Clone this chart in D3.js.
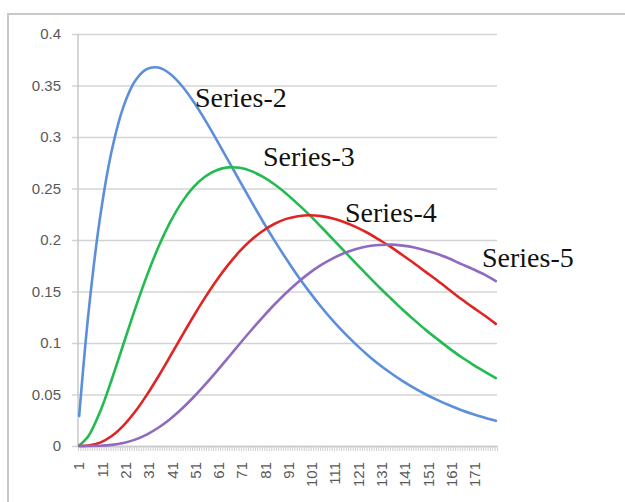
<!DOCTYPE html>
<html>
<head>
<meta charset="utf-8">
<script src="https://cdn.jsdelivr.net/npm/d3@7"></script>
<style>
  html, body { margin: 0; padding: 0; background: #fff; }
  svg { display: block; }
</style>
</head>
<body>
<svg id="chart" width="625" height="502"></svg>
<script>
// ---- data ----
const sampleX = [1, 5, 10, 15, 20, 25, 30, 35, 40, 45, 50, 55, 60, 65, 70, 75, 80, 85, 90, 95,
  100, 105, 110, 115, 120, 125, 130, 135, 140, 145, 150, 155, 160, 165, 170, 175, 180];
const series2 = [0.0291, 0.1291, 0.2222, 0.2869, 0.3293, 0.3543, 0.3659, 0.3674, 0.3614, 0.3500,
  0.3347, 0.3169, 0.2975, 0.2774, 0.2572, 0.2372, 0.2177, 0.1991, 0.1815, 0.1648,
  0.1494, 0.1350, 0.1217, 0.1095, 0.0984, 0.0882, 0.0789, 0.0706, 0.0630, 0.0562,
  0.0500, 0.0445, 0.0395, 0.0350, 0.0311, 0.0276, 0.0244];
const series3 = [0.0004, 0.0097, 0.0333, 0.0646, 0.0988, 0.1329, 0.1647, 0.1929, 0.2168, 0.2363,
  0.2510, 0.2614, 0.2678, 0.2705, 0.2701, 0.2669, 0.2612, 0.2539, 0.2450, 0.2348,
  0.2241, 0.2126, 0.2008, 0.1889, 0.1771, 0.1654, 0.1539, 0.1430, 0.1323, 0.1222,
  0.1125, 0.1035, 0.0948, 0.0866, 0.0793, 0.0725, 0.0659];
const series4 = [0.0000, 0.0005, 0.0033, 0.0097, 0.0198, 0.0332, 0.0494, 0.0675, 0.0867, 0.1063,
  0.1255, 0.1438, 0.1607, 0.1758, 0.1891, 0.2002, 0.2090, 0.2158, 0.2205, 0.2231,
  0.2241, 0.2232, 0.2209, 0.2172, 0.2125, 0.2068, 0.2001, 0.1931, 0.1852, 0.1772,
  0.1688, 0.1604, 0.1517, 0.1429, 0.1348, 0.1269, 0.1186];
const series5 = [0.0000, 0.0000, 0.0002, 0.0011, 0.0030, 0.0062, 0.0111, 0.0177, 0.0260, 0.0359,
  0.0471, 0.0593, 0.0723, 0.0857, 0.0993, 0.1126, 0.1254, 0.1376, 0.1488, 0.1590,
  0.1681, 0.1758, 0.1822, 0.1873, 0.1913, 0.1939, 0.1951, 0.1955, 0.1945, 0.1927,
  0.1899, 0.1865, 0.1820, 0.1768, 0.1719, 0.1666, 0.1601];
const seriesNames = ["Series-2", "Series-3", "Series-4", "Series-5"];
const categoryCount = 180;
const xTickLabels = [1, 11, 21, 31, 41, 51, 61, 71, 81, 91, 101, 111, 121, 131, 141, 151, 161, 171];
const yTickValues = [0, 0.05, 0.1, 0.15, 0.2, 0.25, 0.3, 0.35, 0.4];

// ---- layout ----
const colors = ["#5b8fdb", "#22bb50", "#e02424", "#8e6bbe"];
const labelPos = [[195, 107], [263, 166], [345, 222], [482, 267]];
const plot = { left: 78, right: 497, top: 34, bottom: 446 };

const svg = d3.select("#chart");

// outer frame
svg.append("rect").attr("x", 8).attr("y", 14).attr("width", 700).attr("height", 600)
  .attr("fill", "none").attr("stroke", "#c8c8c8").attr("stroke-width", 2);

const categories = d3.range(1, categoryCount + 1);
const x = d3.scaleBand().domain(categories).range([plot.left, plot.right]).padding(0);
const xEdge = d3.scaleLinear().domain([0, categoryCount]).range([plot.left, plot.right]);
const y = d3.scaleLinear().domain([0, 0.4]).range([plot.bottom, plot.top]);

// gridlines + y axis labels
const yAxis = d3.axisLeft(y).tickValues(yTickValues).tickFormat(d3.format("")).tickSize(-(plot.right - plot.left + 6)).tickPadding(11);
const gy = svg.append("g").attr("transform", `translate(${plot.left - 6},0)`).call(yAxis);
gy.select(".domain").remove();
gy.selectAll(".tick line").attr("stroke", "#d4d4d4").attr("stroke-width", 1.5);
gy.selectAll(".tick text").attr("fill", "#595959").style("font-family", "'Liberation Sans', Arial, sans-serif").style("font-size", "15px");

// y-axis vertical line
svg.append("line").attr("x1", plot.left).attr("x2", plot.left).attr("y1", plot.top).attr("y2", plot.bottom)
  .attr("stroke", "#c8c8c8").attr("stroke-width", 1.5);

// x axis category boundary ticks
const xTicksAxis = d3.axisBottom(xEdge).tickValues(d3.range(0, categoryCount + 1)).tickFormat("").tickSize(5).tickSizeOuter(0);
const gxt = svg.append("g").attr("transform", `translate(0,${plot.bottom})`).call(xTicksAxis);
gxt.select(".domain").attr("stroke", "#c8c8c8").attr("stroke-width", 1.5);
gxt.selectAll(".tick line").attr("stroke", "#cfcfcf").attr("stroke-width", 1);

// x axis labels
const xAxis = d3.axisBottom(x).tickValues(xTickLabels).tickSize(0).tickPadding(0);
const gx = svg.append("g").attr("transform", `translate(0,${plot.bottom})`).call(xAxis);
gx.select(".domain").remove();
gx.selectAll(".tick text")
  .attr("fill", "#595959")
  .style("font-family", "'Liberation Sans', Arial, sans-serif").style("font-size", "15px")
  .attr("text-anchor", "end")
  .attr("transform", "rotate(-90)")
  .attr("x", -16).attr("y", 0).attr("dy", "0.35em");

// lines
const allSeries = [series2, series3, series4, series5];
const line = d3.line()
  .x(d => x(d[0]) + x.bandwidth() / 2)
  .y(d => y(d[1]))
  .curve(d3.curveCatmullRom.alpha(0.5));
allSeries.forEach((vals, i) => {
  const pts = sampleX.map((cx, j) => [cx, vals[j]]);
  svg.append("path").datum(pts).attr("d", line)
    .attr("fill", "none").attr("stroke", colors[i]).attr("stroke-width", 2.6)
    .attr("stroke-linejoin", "round").attr("stroke-linecap", "round");
});

// series labels
seriesNames.forEach((name, i) => {
  svg.append("text").attr("x", labelPos[i][0]).attr("y", labelPos[i][1])
    .text(name)
    .attr("fill", "#111")
    .style("font-family", "'Liberation Serif', 'Times New Roman', serif")
    .style("font-size", "28px");
});
</script>
</body>
</html>
